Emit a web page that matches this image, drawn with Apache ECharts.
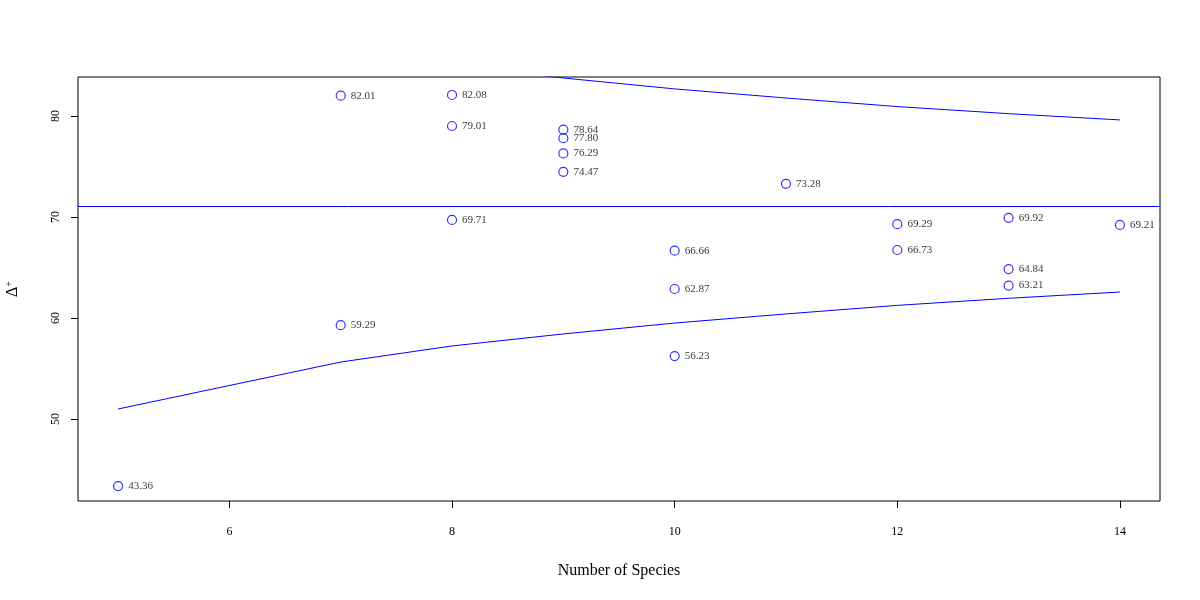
<!DOCTYPE html>
<html><head><meta charset="utf-8">
<script src="https://cdn.jsdelivr.net/npm/echarts@6/dist/echarts.min.js"></script>
<style>html,body{margin:0;padding:0;background:#fff}#c{width:1200px;height:600px}</style>
</head><body><div id="c"></div>
<script>
const speciesCounts = [5, 7, 7, 8, 8, 8, 9, 9, 9, 9, 10, 10, 10, 11, 12, 12, 13, 13, 13, 14];
const deltaPlus = [43.36, 82.01, 59.29, 82.08, 79.01, 69.71, 78.64, 77.80, 76.29, 74.47, 66.66, 62.87, 56.23, 73.28, 69.29, 66.73, 69.92, 64.84, 63.21, 69.21];
const funnelX = [5, 7, 8, 9, 10, 11, 12, 13, 14];
const lowerLimit = [50.99, 55.64, 57.23, 58.42, 59.50, 60.40, 61.25, 61.95, 62.57];
const upperLimit = [91.19, 86.54, 84.95, 83.76, 82.68, 81.78, 80.93, 80.23, 79.61];
const meanDelta = 71.09;
const xTicks = [6, 8, 10, 12, 14];
const yTicks = [50, 60, 70, 80];

const FONT = '"Liberation Serif", "DejaVu Serif", serif';
const chart = echarts.init(document.getElementById('c'), null, {renderer: 'canvas'});
chart.setOption({
  animation: false,
  backgroundColor: '#fff',
  grid: {left: 78, right: 40, top: 77, bottom: 99, show: true, borderColor: '#000', borderWidth: 1, backgroundColor: 'transparent', containLabel: false, outerBoundsMode: 'none'},
  xAxis: {
    type: 'value', min: 4.64, max: 14.36,
    name: 'Number of Species', nameLocation: 'middle', nameGap: 62,
    nameTextStyle: {fontFamily: FONT, fontSize: 16, color: '#000'},
    axisLine: {show: false},
    splitLine: {show: false},
    axisTick: {show: true, length: 7, lineStyle: {color: '#000'}, customValues: xTicks},
    axisLabel: {fontFamily: FONT, fontSize: 12, color: '#000', margin: 25, customValues: xTicks, formatter: v => String(v)}
  },
  yAxis: {
    type: 'value', min: 41.88, max: 83.86,
    name: '{a|Δ}{b|+}', nameLocation: 'middle', nameGap: 56, nameRotate: 90,
    nameTextStyle: {fontFamily: FONT, color: '#000', rich: {a: {fontFamily: FONT, fontSize: 16, color: '#000'}, b: {fontFamily: FONT, fontSize: 10, color: '#000', verticalAlign: 'top', padding: [0, 0, 8, 0]}}},
    axisLine: {show: false},
    splitLine: {show: false},
    axisTick: {show: true, length: 7, lineStyle: {color: '#000'}, customValues: yTicks},
    axisLabel: {fontFamily: FONT, fontSize: 12, color: '#000', rotate: 90, margin: 16, customValues: yTicks, formatter: v => String(v)}
  },
  series: [
    {
      type: 'line', data: funnelX.map((x, i) => [x, lowerLimit[i]]),
      showSymbol: false, symbol: 'none', lineStyle: {color: '#0000ff', width: 1}, silent: true, clip: true,
      markLine: {silent: true, symbol: 'none', label: {show: false}, lineStyle: {color: '#0000ff', width: 1, type: 'solid'}, data: [{yAxis: meanDelta}]}
    },
    {
      type: 'line', data: funnelX.map((x, i) => [x, upperLimit[i]]),
      showSymbol: false, symbol: 'none', lineStyle: {color: '#0000ff', width: 1}, silent: true, clip: true
    },
    {
      type: 'scatter', data: speciesCounts.map((x, i) => [x, deltaPlus[i]]),
      symbol: 'circle', symbolSize: 9,
      itemStyle: {color: 'transparent', borderColor: '#0000ff', borderWidth: 1.2},
      label: {show: true, position: 'right', distance: 5, fontFamily: FONT, fontSize: 11, color: '#000',
        formatter: p => p.value[1].toFixed(2)}
    }
  ]
});
</script></body></html>
